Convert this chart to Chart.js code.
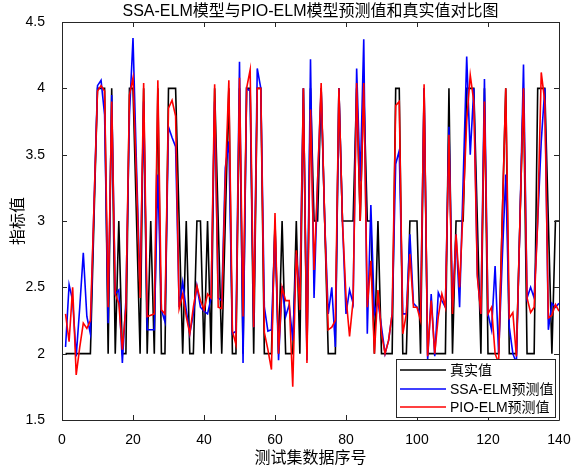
<!DOCTYPE html>
<html><head><meta charset="utf-8">
<script src="https://cdn.jsdelivr.net/npm/chart.js@4.4.1/dist/chart.umd.min.js"></script>
<style>html,body{margin:0;padding:0;background:#fff}#wrap{width:578px;height:470px}</style>
</head><body><div id="wrap"><canvas id="c" width="578" height="470"></canvas></div>
<script>
const titleText = 'SSA-ELM模型与PIO-ELM模型预测值和真实值对比图';
const xTitle = '测试集数据序号';
const yTitle = '指标值';
const seriesNames = ['真实值', 'SSA-ELM预测值', 'PIO-ELM预测值'];
const xTicks = [0, 20, 40, 60, 80, 100, 120, 140];
const yTicks = [1.5, 2, 2.5, 3, 3.5, 4, 4.5];

const trueValue = [
 2,2,2,2,2,2,2,2,3,4,
 4,4,2,4,2,3,2,2,4,4,
 3,2,4,2,3,2,4,2,2,4,
 4,4,3,2,3,2,2,3,3,2,
 3,2,4,3,2,3,4,2,2,4,
 2,4,4,2,4,4,2,2,2,3,
 2,3,2,2,2,3,2,4,2,4,
 3,3,4,3,2,2,2,4,3,3,
 3,3,4,3,4,3,3,2,3,2,
 2,2,2,4,4,2,2,3,3,3,
 2,4,2,2,2,2,2,2,4,2,
 3,3,3,4,4,4,3,2,4,2,
 2,2,2,3,4,2,2,2,3,4,
 2,2,2,4,4,4,3,2,3,3];
const ssaPred = [
 2.05,2.52,2.40,1.98,2.35,2.76,2.28,2.15,3.10,4.02,
 4.06,3.80,2.23,3.95,2.45,2.48,1.93,2.40,3.80,4.38,
 3.40,2.48,3.90,2.18,2.18,2.18,3.35,2.33,2.24,3.71,
 3.63,3.56,2.35,2.54,2.33,2.15,2.30,2.51,2.35,2.32,
 2.30,2.42,3.90,2.42,2.40,3.40,3.60,2.15,2.17,4.20,
 1.93,4.00,3.98,2.20,4.15,4.00,2.35,2.17,2.18,2.95,
 1.95,2.51,2.28,2.37,2.10,2.75,2.45,4.00,1.95,4.22,
 2.42,3.30,4.00,3.00,2.30,2.50,2.05,4.00,3.00,2.30,
 2.48,2.38,4.15,3.30,4.37,2.15,3.12,2.30,2.40,2.20,
 2.00,2.10,2.30,3.43,3.53,2.30,2.30,2.90,2.38,2.35,
 2.30,4.00,1.95,2.45,1.98,2.46,2.40,2.35,3.71,2.35,
 2.90,2.35,3.30,4.24,3.50,4.00,2.60,2.30,4.07,2.30,
 2.18,2.66,2.00,2.70,3.35,2.20,2.00,1.93,3.00,4.18,
 2.42,2.50,2.42,3.00,3.60,4.00,2.18,2.38,2.35,2.38];
const pioPred = [
 2.30,2.09,2.50,1.84,2.05,2.23,2.19,2.25,3.10,3.98,
 4.02,3.98,2.35,3.90,2.45,2.38,2.03,2.35,3.95,4.08,
 3.30,2.42,4.04,2.28,2.29,2.30,4.06,2.33,2.30,3.85,
 3.91,3.79,2.34,2.45,2.28,2.15,2.35,2.51,2.40,2.33,
 2.45,2.42,4.03,2.35,2.34,3.30,4.06,2.17,2.07,4.08,
 2.28,4.00,4.14,2.20,4.00,4.00,2.16,2.03,1.88,3.06,
 2.00,2.50,2.40,2.40,1.75,2.78,2.33,4.00,1.93,3.84,
 2.63,3.30,4.04,3.00,2.18,2.20,2.25,4.00,3.00,2.43,
 2.13,2.40,4.04,3.00,4.04,2.35,2.70,2.00,2.48,2.15,
 2.00,2.10,2.30,3.87,3.90,2.15,2.30,2.75,2.35,2.35,
 2.25,4.03,1.98,2.40,2.00,2.28,2.45,2.35,3.65,2.30,
 2.90,2.50,3.10,3.75,4.10,3.90,2.58,2.30,3.90,2.30,
 2.35,2.00,1.93,3.00,4.00,2.27,2.31,1.98,3.00,4.00,
 2.42,2.31,2.35,3.00,4.12,3.90,2.27,2.29,2.37,2.32];
const sampleNo = trueValue.map((_, i) => i + 1);

const toPts = arr => arr.map((v, i) => ({x: sampleNo[i], y: v}));
const latin = 'Arial, "Liberation Sans", "Noto Sans CJK SC", sans-serif';
const axisColor = '#262626';

const framePlugin = {
  id: 'frame',
  afterDatasetsDraw(chart) {
    const {ctx, chartArea: a, scales: {x, y}} = chart;
    ctx.save();
    ctx.strokeStyle = axisColor;
    ctx.lineWidth = 1;
    ctx.beginPath();
    ctx.rect(Math.round(a.left) + 0.5, Math.round(a.top) + 0.5, Math.round(a.right - a.left), Math.round(a.bottom - a.top));
    ctx.stroke();
    const tl = 5;
    ctx.beginPath();
    xTicks.forEach(v => {
      const px = Math.round(x.getPixelForValue(v)) + 0.5;
      ctx.moveTo(px, a.bottom); ctx.lineTo(px, a.bottom - tl);
      ctx.moveTo(px, a.top); ctx.lineTo(px, a.top + tl);
    });
    yTicks.forEach(v => {
      const py = Math.round(y.getPixelForValue(v)) + 0.5;
      ctx.moveTo(a.left, py); ctx.lineTo(a.left + tl, py);
      ctx.moveTo(a.right, py); ctx.lineTo(a.right - tl, py);
    });
    ctx.stroke();

    // legend
    const lx = 396, ly = 359, lw = 159, lh = 58;
    ctx.fillStyle = '#fff';
    ctx.fillRect(lx, ly, lw, lh);
    ctx.strokeRect(lx + 0.5, ly + 0.5, lw, lh);
    const rows = [370, 389, 407];
    chart.data.datasets.forEach((ds, i) => {
      ctx.strokeStyle = ds.borderColor;
      ctx.lineWidth = 1.6;
      ctx.beginPath();
      ctx.moveTo(400, rows[i]); ctx.lineTo(446, rows[i]);
      ctx.stroke();
      ctx.fillStyle = '#000';
      ctx.font = '14px ' + latin;
      ctx.textBaseline = 'middle';
      ctx.textAlign = 'left';
      ctx.fillText(ds.label, 450, rows[i] + 1);
    });

    // titles
    ctx.fillStyle = '#000';
    ctx.textAlign = 'center';
    ctx.textBaseline = 'middle';
    ctx.font = '16px ' + latin;
    ctx.fillText(titleText, (a.left + a.right) / 2, 12);
    ctx.font = '16px ' + latin;
    ctx.fillText(xTitle, (a.left + a.right) / 2, 459);
    ctx.save();
    ctx.translate(19, (a.top + a.bottom) / 2);
    ctx.rotate(-Math.PI / 2);
    ctx.fillText(yTitle, 0, 0);
    ctx.restore();
    ctx.restore();
  }
};

new Chart(document.getElementById('c'), {
  type: 'line',
  data: {
    datasets: [
      {label: seriesNames[0], data: toPts(trueValue), borderColor: '#000000', order: 3},
      {label: seriesNames[1], data: toPts(ssaPred), borderColor: '#0000FF', order: 2},
      {label: seriesNames[2], data: toPts(pioPred), borderColor: '#FF0000', order: 1}
    ]
  },
  options: {
    responsive: false,
    animation: false,
    layout: {padding: {left: 0, right: 19, top: 22, bottom: 0}},
    elements: {
      line: {borderWidth: 1.6, tension: 0, fill: false},
      point: {radius: 0}
    },
    plugins: {legend: {display: false}, title: {display: false}, tooltip: {enabled: false}},
    scales: {
      x: {
        type: 'linear', min: 0, max: 140,
        afterFit: s => { s.height = 50; },
        afterBuildTicks: s => { s.ticks = xTicks.map(v => ({value: v})); },
        grid: {display: false},
        border: {display: false},
        ticks: {color: '#000', font: {size: 14, family: latin}, padding: 4, maxRotation: 0,
                callback: v => String(v)}
      },
      y: {
        type: 'linear', min: 1.5, max: 4.5,
        afterFit: s => { s.width = 62; },
        afterBuildTicks: s => { s.ticks = yTicks.map(v => ({value: v})); },
        grid: {display: false},
        border: {display: false},
        ticks: {color: '#000', font: {size: 14, family: latin}, padding: 9,
                callback: v => String(v)}
      }
    }
  },
  plugins: [framePlugin]
});
</script>
</body></html>
